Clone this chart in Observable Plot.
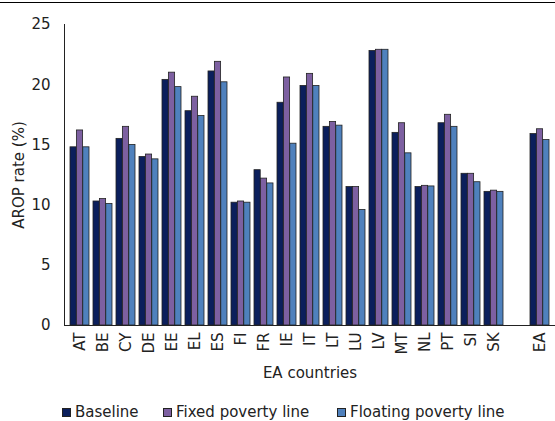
<!DOCTYPE html>
<html>
<head>
<meta charset="utf-8">
<script src="https://cdn.jsdelivr.net/npm/d3@7"></script>
<script src="https://cdn.jsdelivr.net/npm/@observablehq/plot@0.6"></script>
<style>
  html, body { margin: 0; padding: 0; background: #fff; }
  #wrap { position: relative; width: 555px; height: 421px; overflow: hidden; font-family: "DejaVu Sans", sans-serif; color: #222; }
  #topline { position: absolute; left: 0; top: 2px; width: 555px; border-top: 1.5px solid #000; }
  #chart { position: absolute; left: 0; top: 0; }
  #legend { position: absolute; top: 403px; left: 0; width: 555px; height: 18px; font-size: 15px; }
  .item { position: absolute; top: 0; display: flex; align-items: center; white-space: nowrap; }
  .sw { width: 7px; height: 7px; border: 1px solid #222; margin-right: 4px; }
</style>
</head>
<body>
<div id="wrap">
  <div id="topline"></div>
  <div id="chart"></div>
  <div id="legend"></div>
</div>
<script>
// At-risk-of-poverty rates by euro-area country under three poverty-line assumptions
const countries = ["AT", "BE", "CY", "DE", "EE", "EL", "ES", "FI", "FR", "IE",
                   "IT", "LT", "LU", "LV", "MT", "NL", "PT", "SI", "SK", "EA"];
const baseline = [14.8, 10.3, 15.5, 14.0, 20.4, 17.8, 21.1, 10.2, 12.9, 18.5,
                  19.9, 16.5, 11.5, 22.8, 16.0, 11.5, 16.8, 12.6, 11.1, 15.9];
const fixedLine = [16.2, 10.5, 16.5, 14.2, 21.0, 19.0, 21.9, 10.3, 12.2, 20.6,
                   20.9, 16.9, 11.5, 22.9, 16.8, 11.6, 17.5, 12.6, 11.2, 16.3];
const floatingLine = [14.8, 10.1, 15.0, 13.8, 19.8, 17.4, 20.2, 10.2, 11.8, 15.1,
                      19.9, 16.6, 9.6, 22.9, 14.3, 11.55, 16.5, 11.9, 11.1, 15.4];
const seriesNames = ["Baseline", "Fixed poverty line", "Floating poverty line"];
const seriesColors = ["#0b1f5c", "#7d60a1", "#4f81bd"];
const yTicks = [0, 5, 10, 15, 20, 25];

// a blank slot separates the euro-area aggregate from the countries
const slots = [...countries.slice(0, -1), " ", "EA"];

const W = 555, H = 390;
const M = {top: 24, right: 0, bottom: 65, left: 64};
const xOptions = {type: "band", domain: slots, paddingInner: 0.18, paddingOuter: 0.09};

// each country band holds three side-by-side bars
const band = Plot.scale({x: {...xOptions, range: [M.left, W - M.right]}}).bandwidth;
const third = band / 3;

const seriesValues = [baseline, fixedLine, floatingLine];
const barMarks = seriesValues.map((vals, s) => {
  const rows = vals.map((v, i) => ({country: countries[i], series: seriesNames[s], value: v}));
  return Plot.barY(rows, {
    x: "country",
    y: "value",
    fill: "series",
    stroke: "#222",
    strokeWidth: 0.8,
    insetLeft: s * third,
    insetRight: (2 - s) * third
  });
});

const chart = Plot.plot({
  width: W,
  height: H,
  marginTop: M.top,
  marginLeft: M.left,
  marginRight: M.right,
  marginBottom: M.bottom,
  style: {fontFamily: "DejaVu Sans, sans-serif", fontSize: "15px", color: "#222", background: "transparent"},
  x: {
    ...xOptions,
    tickSize: 0,
    tickPadding: 7,
    tickRotate: -90,
    label: "EA countries",
    labelAnchor: "center",
    labelOffset: 52
  },
  y: {
    domain: [0, 25],
    ticks: yTicks,
    tickSize: 0,
    tickPadding: 14,
    label: "AROP rate (%)",
    labelAnchor: "center",
    labelArrow: "none",
    labelOffset: 51
  },
  color: {domain: seriesNames, range: seriesColors},
  marks: [
    ...barMarks,
    Plot.ruleY([0], {stroke: "#222", strokeWidth: 1}),
    Plot.frame({anchor: "left", stroke: "#222", strokeWidth: 1})
  ]
});
document.getElementById("chart").append(chart);

// legend
const legend = document.getElementById("legend");
const legendX = [62, 163, 337];
seriesNames.forEach((name, i) => {
  const item = document.createElement("div");
  item.className = "item";
  item.style.left = legendX[i] + "px";
  const sw = document.createElement("span");
  sw.className = "sw";
  sw.style.background = seriesColors[i];
  item.append(sw, document.createTextNode(name));
  legend.append(item);
});
</script>
</body>
</html>
